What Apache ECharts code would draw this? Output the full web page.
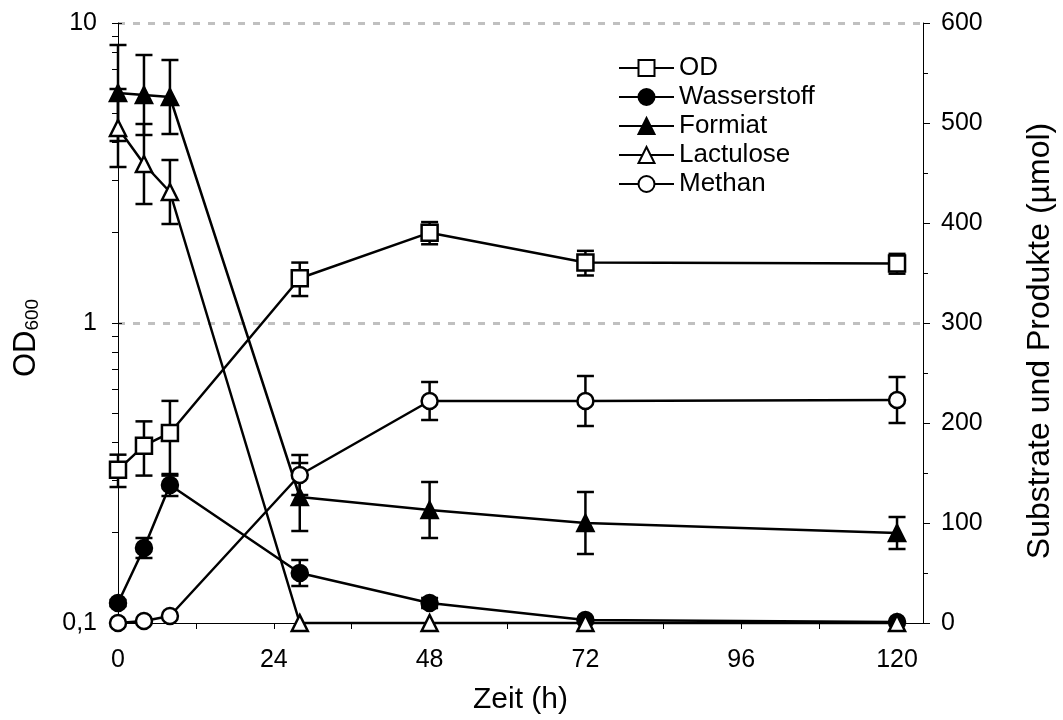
<!DOCTYPE html>
<html><head><meta charset="utf-8">
<script src="https://cdn.jsdelivr.net/npm/echarts@6/dist/echarts.min.js"></script>
<style>html,body{margin:0;padding:0;background:#fff}#c{width:1063px;height:720px}</style>
</head><body><div id="c"></div>
<script>
const times = [0, 4, 8, 28, 48, 72, 120];
const odValues = [0.324, 0.39, 0.43, 1.41, 2.0, 1.59, 1.58];
const odErrors = [0.04, 0.08, 0.12, 0.18, 0.17, 0.15, 0.12];
const wasserstoffValues = [20, 75, 138, 50, 20, 3, 1];
const wasserstoffErrors = [3, 10, 11, 13, 5, 2, 1];
const formiatValues = [530, 528, 526, 126, 113, 100, 90];
const formiatErrors = [48, 40, 37, 34, 28, 31, 16];
const lactuloseValues = [495, 459, 431, 0, 0, 0, 0];
const lactuloseErrors = [39, 40, 32, 0, 0, 0, 0];
const methanValues = [0, 2, 7, 148, 222, 222, 223];
const methanErrors = [0, 0, 0, 20, 19, 25, 23];
const xTickValues = [0, 12, 24, 36, 48, 60, 72, 84, 96, 108, 120];
const xLabelValues = [0, 24, 48, 72, 96, 120];
const leftLabelValues = [0.1, 1, 10];
const leftGridValues = [1, 10];
const leftTickValues = [0.1, 0.2, 0.3, 0.4, 0.5, 0.6, 0.7, 0.8, 0.9, 1, 2, 3, 4, 5, 6, 7, 8, 9, 10];
const seriesNames = ['OD', 'Wasserstoff', 'Formiat', 'Lactulose', 'Methan'];

const FONT = '"Liberation Sans", Arial, sans-serif';
const chart = echarts.init(document.getElementById('c'), null, {renderer: 'canvas'});

function lineSeries(name, vals, symbol, filled, yAxisIndex) {
  return {
    type: 'line', name, yAxisIndex, clip: false,
    data: times.map((t, i) => [t, vals[i]]),
    symbol, symbolSize: 16, showSymbol: true,
    lineStyle: {color: '#000', width: 2.5},
    itemStyle: {color: filled ? '#000' : '#fff', borderColor: '#000', borderWidth: 2.5},
    z: 3
  };
}
function errSeries(vals, errs, yAxisIndex) {
  return {
    type: 'custom', yAxisIndex, z: 1, silent: true, clip: false,
    data: times.map((t, i) => [t, vals[i] - errs[i], vals[i] + errs[i], errs[i]]).filter(d => d[3] > 0),
    encode: {x: 0, y: [1, 2]},
    renderItem(params, api) {
      const x = api.value(0);
      const lo = api.coord([x, api.value(1)]);
      const hi = api.coord([x, api.value(2)]);
      const w = 8.5;
      const st = {stroke: '#000', lineWidth: 2.5};
      return {type: 'group', children: [
        {type: 'line', shape: {x1: lo[0], y1: lo[1], x2: hi[0], y2: hi[1]}, style: st},
        {type: 'line', shape: {x1: lo[0] - w, y1: lo[1], x2: lo[0] + w, y2: lo[1]}, style: st},
        {type: 'line', shape: {x1: hi[0] - w, y1: hi[1], x2: hi[0] + w, y2: hi[1]}, style: st}
      ]};
    }
  };
}

const option = {
  animation: false,
  backgroundColor: '#fff',
  textStyle: {fontFamily: FONT, color: '#000'},
  grid: {left: 118, right: 140, top: 23, bottom: 97},
  legend: {
    data: seriesNames, orient: 'vertical', left: 613, top: 50,
    itemWidth: 55, itemHeight: 20, itemGap: 3, selectedMode: false,
    textStyle: {fontFamily: FONT, fontSize: 26, color: '#000', lineHeight: 24}
  },
  xAxis: {
    type: 'value', min: 0, max: 124,
    name: 'Zeit (h)', nameLocation: 'middle', nameGap: 62,
    nameTextStyle: {fontFamily: FONT, fontSize: 30, color: '#000'},
    axisLine: {show: true, lineStyle: {color: '#000', width: 1}},
    axisTick: {show: true, customValues: xTickValues, length: 6, lineStyle: {color: '#000', width: 1}},
    axisLabel: {customValues: xLabelValues, fontSize: 25, color: '#000', margin: 25, fontFamily: FONT},
    splitLine: {show: false}
  },
  yAxis: [
    {
      type: 'log', logBase: 10, min: 0.1, max: 10, position: 'left',
      axisLine: {show: true, lineStyle: {color: '#000', width: 1}},
      axisTick: {show: true, customValues: leftTickValues, length: 6, lineStyle: {color: '#000', width: 1}},
      axisLabel: {customValues: leftLabelValues, fontSize: 25, color: '#000', margin: 21, fontFamily: FONT,
        formatter: v => String(v).replace('.', ',')},
      splitLine: {show: false}
    },
    {
      type: 'log', logBase: 10, min: 0.1, max: 10, position: 'left',
      axisLine: {show: false},
      axisTick: {show: true, inside: true, customValues: leftGridValues, length: 4, lineStyle: {color: '#000', width: 1}},
      axisLabel: {show: false},
      splitLine: {show: true, lineStyle: {color: '#c0c0c0', width: 3, type: [7, 8]}}
    },
    {
      type: 'value', min: 0, max: 600, interval: 100, position: 'right',
      axisLine: {show: true, lineStyle: {color: '#000', width: 1}},
      axisTick: {show: true, length: 7, lineStyle: {color: '#000', width: 1}},
      minorTick: {show: true, splitNumber: 2, length: 5, lineStyle: {color: '#000', width: 1}},
      axisLabel: {fontSize: 25, color: '#000', margin: 18, fontFamily: FONT},
      splitLine: {show: false}
    }
  ],
  graphic: [
    {type: 'text', x: 25, y: 338, rotation: Math.PI / 2,
      style: {text: '{a|OD}{b|600}', align: 'center', verticalAlign: 'middle', fill: '#000',
        rich: {a: {fontSize: 31, fontFamily: FONT, lineHeight: 34, verticalAlign: 'bottom'},
               b: {fontSize: 19, fontFamily: FONT, lineHeight: 16, verticalAlign: 'bottom'}}}},
    {type: 'text', x: 1040, y: 341, rotation: Math.PI / 2,
      style: {text: 'Substrate und Produkte (µmol)', align: 'center', verticalAlign: 'middle', fill: '#000',
        fontSize: 32, fontFamily: FONT}}
  ],
  series: [
    errSeries(odValues, odErrors, 0),
    errSeries(wasserstoffValues, wasserstoffErrors, 2),
    errSeries(formiatValues, formiatErrors, 2),
    errSeries(lactuloseValues, lactuloseErrors, 2),
    errSeries(methanValues, methanErrors, 2),
    lineSeries('OD', odValues, 'rect', false, 0),
    lineSeries('Wasserstoff', wasserstoffValues, 'circle', true, 2),
    lineSeries('Formiat', formiatValues, 'triangle', true, 2),
    lineSeries('Lactulose', lactuloseValues, 'triangle', false, 2),
    lineSeries('Methan', methanValues, 'circle', false, 2)
  ]
};
chart.setOption(option);
</script></body></html>
